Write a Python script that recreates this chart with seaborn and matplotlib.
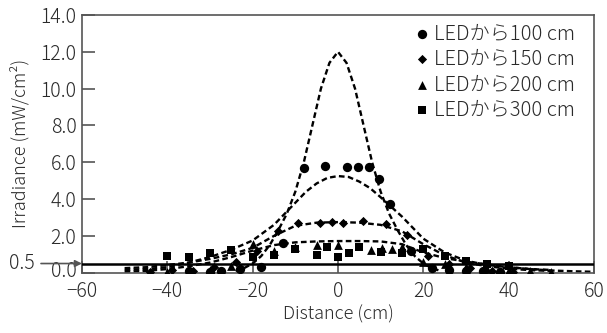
import matplotlib
matplotlib.use("Agg")
import matplotlib.pyplot as plt
import matplotlib.transforms as mtrans
import seaborn as sns

# ---- data ----
labels = ["LEDから100 cm", "LEDから150 cm", "LEDから200 cm", "LEDから300 cm"]

x100 = [-35, -30, -27.5, -23, -18, -13, -8, -3, 2, 4.7, 7.2, 9.6, 12.2, 17, 22, 26, 30, 34, 38]
y100 = [0.08, 0.05, 0.1, 0.2, 0.3, 1.6, 5.7, 5.8, 5.75, 5.75, 5.75, 5.1, 3.75, 1.2, 0.25, 0.15, 0.1, 0.08, 0.05]

x150 = [-44, -39, -34, -29, -24, -19, -14, -9.4, -4.2, -1.5, 1.1, 5.9, 11.2, 16.2, 21, 26, 31, 36, 41]
y150 = [0.05, 0.15, 0.1, 0.3, 0.6, 1.2, 2.25, 2.7, 2.7, 2.75, 2.7, 2.8, 2.65, 2.05, 0.9, 0.45, 0.25, 0.12, 0.06]

x200 = [-40, -35, -30, -25, -20, -15, -10, -5, 0, 7.7, 10.2, 12.6, 15, 20, 25, 30, 35, 40, 45, 50]
y200 = [0.05, 0.1, 0.15, 0.35, 1.55, 1.2, 1.42, 1.5, 1.5, 1.25, 1.35, 1.3, 1.4, 0.6, 0.45, 0.3, 0.2, 0.15, 0.1, 0.05]

x300 = [-40, -35, -30, -25, -20, -15, -10, -5, -2.5, 0, 2.5, 5, 10, 15, 20, 25, 30, 35, 40]
y300 = [0.91, 0.86, 1.09, 1.24, 0.86, 0.97, 1.3, 0.97, 1.4, 0.88, 1.09, 1.4, 1.15, 1.07, 1.3, 0.9, 0.65, 0.45, 0.35]

# fitted curves
cx100 = [-24, -22, -20, -18, -16, -14, -12, -10, -8, -6, -4, -2, 0, 2, 4, 6, 8, 10, 12, 14, 16, 18, 20, 22, 24]
cy100 = [0.1, 0.25, 0.5, 0.9, 1.5, 2.3, 3.2, 4.4, 6.0, 8.0, 10.0, 11.4, 12.0, 11.4, 10.0, 8.0, 6.0, 4.4, 3.2, 2.3, 1.5, 0.9, 0.5, 0.25, 0.1]

cx150 = [-50, -45, -40, -35, -30, -25, -20, -15, -10, -7.5, -5, -2.5, 0, 2.5, 5, 7.5, 10, 15, 20, 25, 30, 35, 40, 45, 50]
cy150 = [0.15, 0.2, 0.3, 0.55, 0.85, 1.25, 1.75, 2.6, 3.8, 4.4, 4.85, 5.15, 5.25, 5.2, 4.95, 4.6, 4.1, 3.05, 1.85, 1.1, 0.65, 0.42, 0.3, 0.2, 0.15]

cx200 = [-50, -45, -40, -35, -30, -25, -20, -15, -10, -5, 0, 5, 10, 15, 20, 25, 30, 35, 40, 45, 50]
cy200 = [0.25, 0.3, 0.42, 0.55, 0.75, 1.0, 1.35, 2.0, 2.55, 2.72, 2.75, 2.72, 2.6, 2.25, 1.55, 0.95, 0.55, 0.35, 0.22, 0.14, 0.1]

cx300 = [-50, -45, -40, -35, -30, -25, -20, -15, -10, -5, 0, 5, 10, 15, 20, 25, 30, 35, 40, 45, 50, 55, 60]
cy300 = [0.05, 0.1, 0.2, 0.35, 0.55, 0.85, 1.2, 1.5, 1.65, 1.7, 1.72, 1.72, 1.7, 1.55, 1.1, 0.8, 0.6, 0.45, 0.3, 0.2, 0.12, 0.08, 0.05]

threshold = 0.5
yticks = [0, 2, 4, 6, 8, 10, 12, 14]
xticks = [-60, -40, -20, 0, 20, 40, 60]

# ---- style ----
sns.set_theme(style="white")
FONT = ["Noto Sans CJK JP", "DejaVu Sans"]
plt.rcParams["font.family"] = FONT
plt.rcParams["font.weight"] = "light"
plt.rcParams["axes.labelweight"] = "light"
plt.rcParams["axes.unicode_minus"] = True
TXT = "#2a2a2a"
SPINE = "#555555"

fig = plt.figure(figsize=(6.07, 3.33), dpi=100)
ax = fig.add_axes([0.135, 0.181, 0.8436, 0.774])

dash = (0, (2.4, 1.4))
for cx, cy in [(cx100, cy100), (cx150, cy150), (cx200, cy200), (cx300, cy300)]:
    sns.lineplot(x=cx, y=cy, ax=ax, color="black", lw=1.7, linestyle=dash,
                 legend=False, sort=False, zorder=2)

ax.axhline(threshold, color="black", lw=1.8, zorder=3)

specs = [(x100, y100, "o", 45), (x150, y150, "D", 22), (x200, y200, "^", 40), (x300, y300, "s", 38)]
for (xs, ys, m, s), lab in zip(specs, labels):
    sns.scatterplot(x=xs, y=ys, ax=ax, marker=m, s=s, color="black",
                    edgecolor="black", linewidth=0, label=lab, zorder=4)

ax.set_xlim(-60, 60)
ax.set_ylim(0, 14)
ax.set_xticks(xticks)
ax.set_yticks(yticks)
ax.set_yticklabels([f"{v:.1f}" for v in yticks])
ax.set_xticklabels([f"{v}".replace("-", "\u2212") for v in xticks])
ax.tick_params(axis="both", direction="in", length=9, width=1.2, color=SPINE,
               labelsize=14, labelcolor=TXT, bottom=True, left=True)
ax.tick_params(axis="y", pad=4)
ax.tick_params(axis="x", pad=6)
for sp in ax.spines.values():
    sp.set_color(SPINE)
    sp.set_linewidth(1.2)

# nudge the "0.0" label up a little so it clears the "−60" label
lab0 = ax.get_yticklabels()[0]
lab0.set_transform(lab0.get_transform() + mtrans.ScaledTranslation(0, 3 / 72, fig.dpi_scale_trans))

ax.set_xlabel("Distance (cm)", fontsize=13, color=TXT, labelpad=2)
ax.set_ylabel("Irradiance (mW/cm²)", fontsize=13, color=TXT, labelpad=8)

ax.annotate("0.5", xy=(0, threshold), xycoords=("axes fraction", "data"),
            xytext=(-47, 0), textcoords="offset pixels",
            ha="right", va="center", fontsize=14, color=TXT,
            arrowprops=dict(arrowstyle="-|>", color=SPINE, lw=1.2,
                            shrinkA=2, shrinkB=0, mutation_scale=10),
            annotation_clip=False)

leg = ax.legend(loc="upper right", frameon=False, fontsize=14.5,
                handletextpad=0.0, handlelength=1.2, labelspacing=0.22,
                borderaxespad=0.0, bbox_to_anchor=(0.978, 1.0))
for t in leg.get_texts():
    t.set_color(TXT)

fig.savefig("out.png", dpi=100)
